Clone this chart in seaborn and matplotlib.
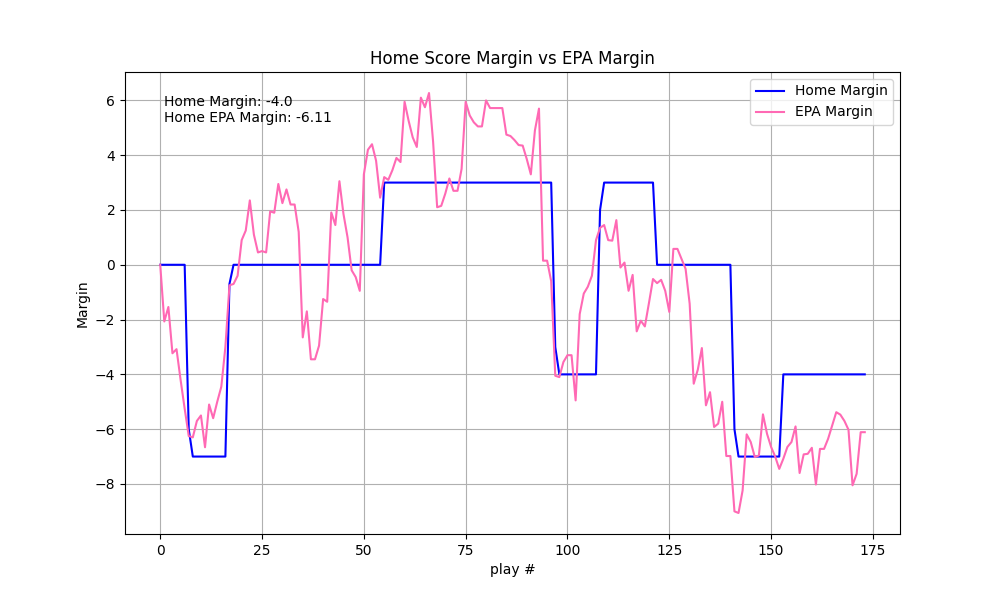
import matplotlib
matplotlib.use("Agg")
import matplotlib.pyplot as plt
import seaborn as sns

# score margin for the home team, one value per play
home_margin = [
    0, 0, 0, 0, 0, 0, 0, -6, -7, -7,
    -7, -7, -7, -7, -7, -7, -7, -0.7, 0, 0,
    0, 0, 0, 0, 0, 0, 0, 0, 0, 0,
    0, 0, 0, 0, 0, 0, 0, 0, 0, 0,
    0, 0, 0, 0, 0, 0, 0, 0, 0, 0,
    0, 0, 0, 0, 0, 3, 3, 3, 3, 3,
    3, 3, 3, 3, 3, 3, 3, 3, 3, 3,
    3, 3, 3, 3, 3, 3, 3, 3, 3, 3,
    3, 3, 3, 3, 3, 3, 3, 3, 3, 3,
    3, 3, 3, 3, 3, 3, 3, -3, -4, -4,
    -4, -4, -4, -4, -4, -4, -4, -4, 2, 3,
    3, 3, 3, 3, 3, 3, 3, 3, 3, 3,
    3, 3, 0, 0, 0, 0, 0, 0, 0, 0,
    0, 0, 0, 0, 0, 0, 0, 0, 0, 0,
    0, -6, -7, -7, -7, -7, -7, -7, -7, -7,
    -7, -7, -7, -4, -4, -4, -4, -4, -4, -4,
    -4, -4, -4, -4, -4, -4, -4, -4, -4, -4,
    -4, -4, -4, -4,
]

# EPA margin for the home team, one value per play
epa_margin = [
    0.0, -2.07, -1.54, -3.23, -3.08, -4.2, -5.25, -6.25, -6.3, -5.7,
    -5.5, -6.66, -5.1, -5.6, -5.0, -4.45, -3.0, -0.75, -0.7, -0.4,
    0.9, 1.25, 2.35, 1.1, 0.45, 0.5, 0.45, 1.95, 1.9, 2.95,
    2.25, 2.75, 2.2, 2.2, 1.2, -2.65, -1.7, -3.45, -3.45, -2.95,
    -1.25, -1.35, 1.91, 1.45, 3.05, 1.85, 1.0, -0.2, -0.45, -0.95,
    3.3, 4.2, 4.4, 3.8, 2.45, 3.2, 3.1, 3.45, 3.9, 3.75,
    5.95, 5.25, 4.65, 4.3, 6.1, 5.75, 6.27, 4.5, 2.1, 2.15,
    2.6, 3.15, 2.7, 2.7, 3.5, 5.95, 5.45, 5.2, 5.05, 5.05,
    6.0, 5.72, 5.72, 5.72, 5.72, 4.75, 4.7, 4.55, 4.37, 4.35,
    3.86, 3.3, 4.9, 5.7, 0.15, 0.15, -0.6, -4.05, -4.1, -3.55,
    -3.3, -3.3, -4.95, -1.8, -1.05, -0.8, -0.4, 0.9, 1.35, 1.45,
    0.9, 0.88, 1.63, -0.1, 0.08, -0.95, -0.37, -2.43, -2.04, -2.25,
    -1.4, -0.52, -0.67, -0.55, -0.95, -1.72, 0.58, 0.58, 0.22, -0.15,
    -1.42, -4.34, -3.83, -3.04, -5.13, -4.65, -5.92, -5.8, -5.0, -6.98,
    -6.98, -9.0, -9.06, -8.24, -6.19, -6.47, -7.02, -6.96, -5.46, -6.17,
    -6.65, -7.0, -7.45, -7.08, -6.65, -6.47, -5.9, -7.6, -6.92, -6.9,
    -6.68, -8.02, -6.72, -6.72, -6.35, -5.86, -5.38, -5.47, -5.7, -6.02,
    -8.05, -7.63, -6.11, -6.11,
]

plays = list(range(len(home_margin)))

fig, ax = plt.subplots(figsize=(10, 6), dpi=100)

sns.lineplot(x=plays, y=home_margin, color="blue", label="Home Margin", ax=ax)
sns.lineplot(x=plays, y=epa_margin, color="hotpink", label="EPA Margin", ax=ax)

ax.text(0.05, 0.95,
        f"Home Margin: {float(home_margin[-1])}\nHome EPA Margin: {epa_margin[-1]}",
        transform=ax.transAxes, va="top", ha="left")

ax.set_title("Home Score Margin vs EPA Margin")
ax.set_xlabel("play #")
ax.set_ylabel("Margin")
ax.grid(True)
ax.legend(loc="upper right")

plt.savefig("out.png", dpi=100)
